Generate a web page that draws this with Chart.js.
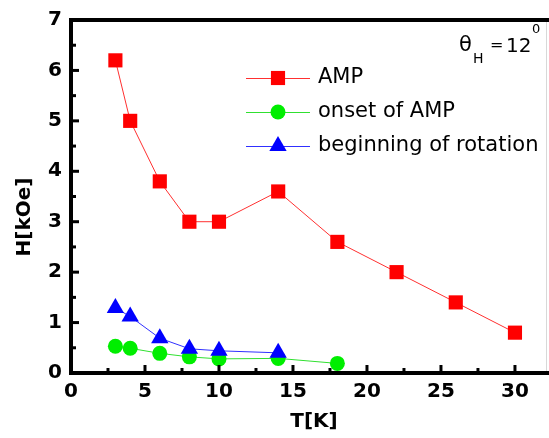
<!DOCTYPE html>
<html>
<head>
<meta charset="utf-8">
<script src="https://cdn.jsdelivr.net/npm/chart.js@4.4.1/dist/chart.umd.min.js"></script>
<style>
  html, body { margin: 0; padding: 0; background: #fff; overflow: hidden; }
  #hChart { display: block; }
</style>
</head>
<body>
<canvas id="hChart" width="549" height="438"></canvas>
<script>
// temperature (K) and field (kOe) for each curve
var tempAmp = [3, 4, 6, 8, 10, 14, 18, 22, 26, 30];
var fieldAmp = [6.2, 5.0, 3.8, 3.0, 3.0, 3.6, 2.6, 2.0, 1.4, 0.8];
var tempOnset = [3, 4, 6, 8, 10, 14, 18];
var fieldOnset = [0.53, 0.49, 0.39, 0.32, 0.28, 0.29, 0.19];
var tempRot = [3, 4, 6, 8, 10, 14];
var fieldRot = [1.29, 1.12, 0.69, 0.48, 0.44, 0.4];

var seriesNames = ['AMP', 'onset of AMP', 'beginning of rotation'];
var xTicks = [0, 5, 10, 15, 20, 25, 30];
var yTicks = [0, 1, 2, 3, 4, 5, 6, 7];

function toPoints(xs, ys) {
  return xs.map(function (x, i) { return { x: x, y: ys[i] }; });
}

// plain marker drawing, used for the legend rows
function drawMarker(ctx, style, r, x, y, color) {
  ctx.save();
  ctx.fillStyle = color;
  ctx.beginPath();
  if (style === 'rect') {
    var s = r * Math.SQRT1_2;
    ctx.rect(x - s, y - s, 2 * s, 2 * s);
  } else if (style === 'circle') {
    ctx.arc(x, y, r, 0, Math.PI * 2);
  } else {
    ctx.moveTo(x, y - r);
    ctx.lineTo(x + r * 0.866, y + r * 0.5);
    ctx.lineTo(x - r * 0.866, y + r * 0.5);
    ctx.closePath();
  }
  ctx.fill();
  ctx.restore();
}

var frameAndLabels = {
  id: 'frameAndLabels',
  afterDraw: function (chart) {
    var ctx = chart.ctx;
    var area = chart.chartArea;
    var xs = chart.scales.x;
    var ys = chart.scales.y;
    ctx.save();

    // inward ticks
    ctx.strokeStyle = '#000';
    ctx.lineWidth = 3;
    ctx.lineCap = 'butt';
    for (var t = 0; t <= 32.5; t += 2.5) {
      var px = xs.getPixelForValue(t);
      if (px > area.right) break;
      var len = (t % 5 === 0) ? 8 : 5;
      ctx.beginPath();
      ctx.moveTo(px, area.bottom);
      ctx.lineTo(px, area.bottom - len);
      ctx.stroke();
    }
    for (var v = 0.5; v < 7; v += 0.5) {
      var py = ys.getPixelForValue(v);
      var l2 = (v % 1 === 0) ? 8 : 5;
      ctx.beginPath();
      ctx.moveTo(area.left, py);
      ctx.lineTo(area.left + l2, py);
      ctx.stroke();
    }

    // frame: left, top, bottom
    ctx.lineWidth = 4;
    ctx.beginPath();
    ctx.moveTo(area.right + 2, area.top);
    ctx.lineTo(area.left, area.top);
    ctx.lineTo(area.left, area.bottom);
    ctx.lineTo(area.right + 2, area.bottom);
    ctx.stroke();

    // faint right edge
    ctx.strokeStyle = '#d8d8d8';
    ctx.lineWidth = 1;
    ctx.beginPath();
    ctx.moveTo(546.5, area.top + 2);
    ctx.lineTo(546.5, area.bottom - 2);
    ctx.stroke();

    // axis titles
    ctx.fillStyle = '#000';
    ctx.font = 'bold 20px "DejaVu Sans"';
    ctx.textAlign = 'center';
    ctx.textBaseline = 'middle';
    ctx.fillText('T[K]', 314, 422);
    ctx.save();
    ctx.translate(25, 217);
    ctx.rotate(-Math.PI / 2);
    ctx.fillText('H[kOe]', 0, 0);
    ctx.restore();

    // legend with line-through markers
    var rows = [78, 112, 146];
    chart.data.datasets.forEach(function (ds, i) {
      var y = rows[i];
      ctx.strokeStyle = ds.borderColor;
      ctx.lineWidth = 1;
      ctx.beginPath();
      ctx.moveTo(246, y + 0.5);
      ctx.lineTo(310, y + 0.5);
      ctx.stroke();
      drawMarker(ctx, ds.pointStyle, ds.pointRadius, 278, y, ds.pointBackgroundColor);
      ctx.fillStyle = '#000';
      ctx.font = '21px "DejaVu Sans"';
      ctx.textAlign = 'left';
      ctx.textBaseline = 'middle';
      ctx.fillText(ds.label, 318, y);
    });

    // field angle note
    ctx.fillStyle = '#000';
    ctx.textAlign = 'left';
    ctx.textBaseline = 'alphabetic';
    ctx.font = '21px "DejaVu Sans"';
    ctx.fillText('\u03B8', 459, 51);
    ctx.font = '14px "DejaVu Sans"';
    ctx.fillText('H', 473, 63);
    ctx.font = '16px "DejaVu Sans"';
    ctx.fillText('=', 490, 50);
    ctx.font = '20px "DejaVu Sans"';
    ctx.fillText('12', 506, 52);
    ctx.font = '13px "DejaVu Sans"';
    ctx.fillText('0', 532, 33);

    ctx.restore();
  }
};

var ctx = document.getElementById('hChart').getContext('2d');
var chart = new Chart(ctx, {
  type: 'scatter',
  data: {
    datasets: [
      {
        label: seriesNames[0],
        data: toPoints(tempAmp, fieldAmp),
        showLine: true,
        borderColor: '#ff3030',
        borderWidth: 1,
        pointStyle: 'rect',
        pointRadius: 10,
        pointBackgroundColor: '#ff0000',
        pointBorderWidth: 0,
        order: 1
      },
      {
        label: seriesNames[1],
        data: toPoints(tempOnset, fieldOnset),
        showLine: true,
        borderColor: '#30e030',
        borderWidth: 1,
        pointStyle: 'circle',
        pointRadius: 7.5,
        pointBackgroundColor: '#00ee00',
        pointBorderWidth: 0,
        order: 2
      },
      {
        label: seriesNames[2],
        data: toPoints(tempRot, fieldRot),
        showLine: true,
        borderColor: '#3030ff',
        borderWidth: 1,
        pointStyle: 'triangle',
        pointRadius: 10,
        pointBackgroundColor: '#0000ff',
        pointBorderWidth: 0,
        order: 0
      }
    ]
  },
  options: {
    responsive: false,
    animation: false,
    layout: { autoPadding: false, padding: { top: 20, right: 0, left: 0, bottom: 0 } },
    plugins: {
      legend: { display: false },
      tooltip: { enabled: false }
    },
    scales: {
      x: {
        type: 'linear',
        min: 0,
        max: 32.3,
        afterBuildTicks: function (scale) {
          scale.ticks = xTicks.map(function (v) { return { value: v }; });
        },
        afterFit: function (scale) {
          scale.height = 65;
          scale.paddingLeft = 0;
          scale.paddingRight = 0;
        },
        grid: { display: false, drawTicks: false },
        border: { display: false },
        ticks: {
          color: '#000',
          padding: 7,
          maxRotation: 0,
          font: { family: 'DejaVu Sans', size: 20, weight: 'bold' }
        }
      },
      y: {
        min: 0,
        max: 7,
        afterBuildTicks: function (scale) {
          scale.ticks = yTicks.map(function (v) { return { value: v }; });
        },
        afterFit: function (scale) {
          scale.width = 71;
          scale.paddingTop = 0;
          scale.paddingBottom = 0;
        },
        grid: { display: false, drawTicks: false },
        border: { display: false },
        ticks: {
          color: '#000',
          padding: 9,
          font: { family: 'DejaVu Sans', size: 20, weight: 'bold' }
        }
      }
    }
  },
  plugins: [frameAndLabels]
});
</script>
</body>
</html>
